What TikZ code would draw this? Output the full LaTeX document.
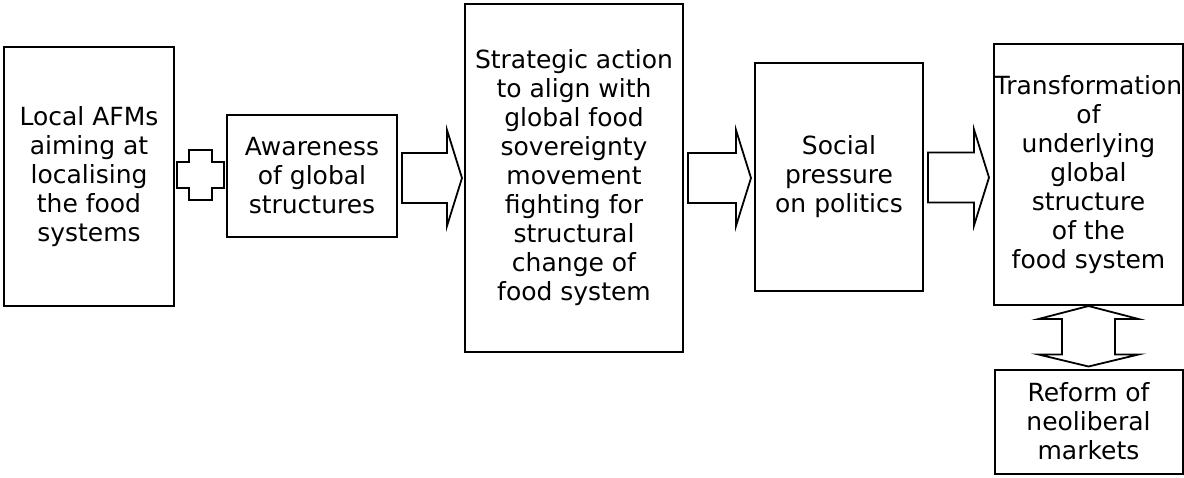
\documentclass[tikz,border=0pt]{standalone}
\usepackage{fontspec}
\setmainfont{DejaVu Sans}
\usetikzlibrary{calc}
\tikzset{
  box/.style={draw=black, line width=2pt, fill=white, align=center, inner sep=0pt,
    font=\fontsize{25pt}{29pt}\selectfont},
  blk/.style={draw=black, line width=1.8pt, fill=white, line join=miter},
}
\newcommand\blkarrow[4]{% #1 from node, #2 to node, #3 center y, #4 tip gap
  \draw[blk] let \p1=(#1.east), \p2=(#2.west), \p3=(0,#3) in
    (\x1+4pt,\y3+25pt) -- (\x2-#4-15pt,\y3+25pt) -- (\x2-#4-15pt,\y3+48pt)
    -- (\x2-#4,\y3) -- (\x2-#4-15pt,\y3-48pt) -- (\x2-#4-15pt,\y3-25pt)
    -- (\x1+4pt,\y3-25pt) -- cycle;}
\begin{document}
\begin{tikzpicture}[x=1pt,y=-1pt]
\useasboundingbox (0,0) rectangle (1184,477);
\node[box, minimum width=170pt, minimum height=259pt] (b1) at (89,176.5)
  {Local AFMs\\aiming at\\localising\\the food\\systems};
\node[box, minimum width=170pt, minimum height=122pt] (b2) at (312,176)
  {Awareness\\of global\\structures};
\node[box, minimum width=218pt, minimum height=348pt] (b3) at (574,177.5)
  {Strategic action\\to align with\\global food\\sovereignty\\movement\\fighting for\\structural\\change of\\food system};
\node[box, minimum width=168pt, minimum height=228pt] (b4) at (839,177)
  {Social\\pressure\\on politics};
\node[box, minimum width=189pt, minimum height=261pt] (b5) at (1088.5,174.5)
  {Transformation\\of\\underlying\\global\\structure\\of the\\food system};
\node[box, minimum width=188pt, minimum height=104pt] (b6) at (1088.5,421.5)
  {Reform of\\neoliberal\\markets};
% plus sign between b1 and b2
\draw[blk] let \p1=(b1.east), \p2=(b2.west), \p3=($(\x1,0)!0.5!(\x2,0)$), \p4=(0,175) in
  (\x3-11.5pt,\y4+25pt) -- (\x3+11.5pt,\y4+25pt) -- (\x3+11.5pt,\y4+13pt)
  -- (\x3+23.5pt,\y4+13pt) -- (\x3+23.5pt,\y4-13pt) -- (\x3+11.5pt,\y4-13pt)
  -- (\x3+11.5pt,\y4-25pt) -- (\x3-11.5pt,\y4-25pt) -- (\x3-11.5pt,\y4-13pt)
  -- (\x3-23.5pt,\y4-13pt) -- (\x3-23.5pt,\y4+13pt) -- (\x3-11.5pt,\y4+13pt) -- cycle;
\blkarrow{b2}{b3}{178}{2pt}
\blkarrow{b3}{b4}{178}{3pt}
\blkarrow{b4}{b5}{177.5}{4pt}
% double arrow between b5 and b6
\draw[blk] let \p1=(b5.south), \p2=(b6.north) in
  (\x1,\y1) -- (\x1+50pt,\y1-13pt) -- (\x1+26.5pt,\y1-13pt) -- (\x1+26.5pt,\y2+14pt)
  -- (\x1+50pt,\y2+14pt) -- (\x2,\y2+2pt) -- (\x1-50pt,\y2+14pt) -- (\x1-26.5pt,\y2+14pt)
  -- (\x1-26.5pt,\y1-13pt) -- (\x1-50pt,\y1-13pt) -- cycle;
\end{tikzpicture}
\end{document}
